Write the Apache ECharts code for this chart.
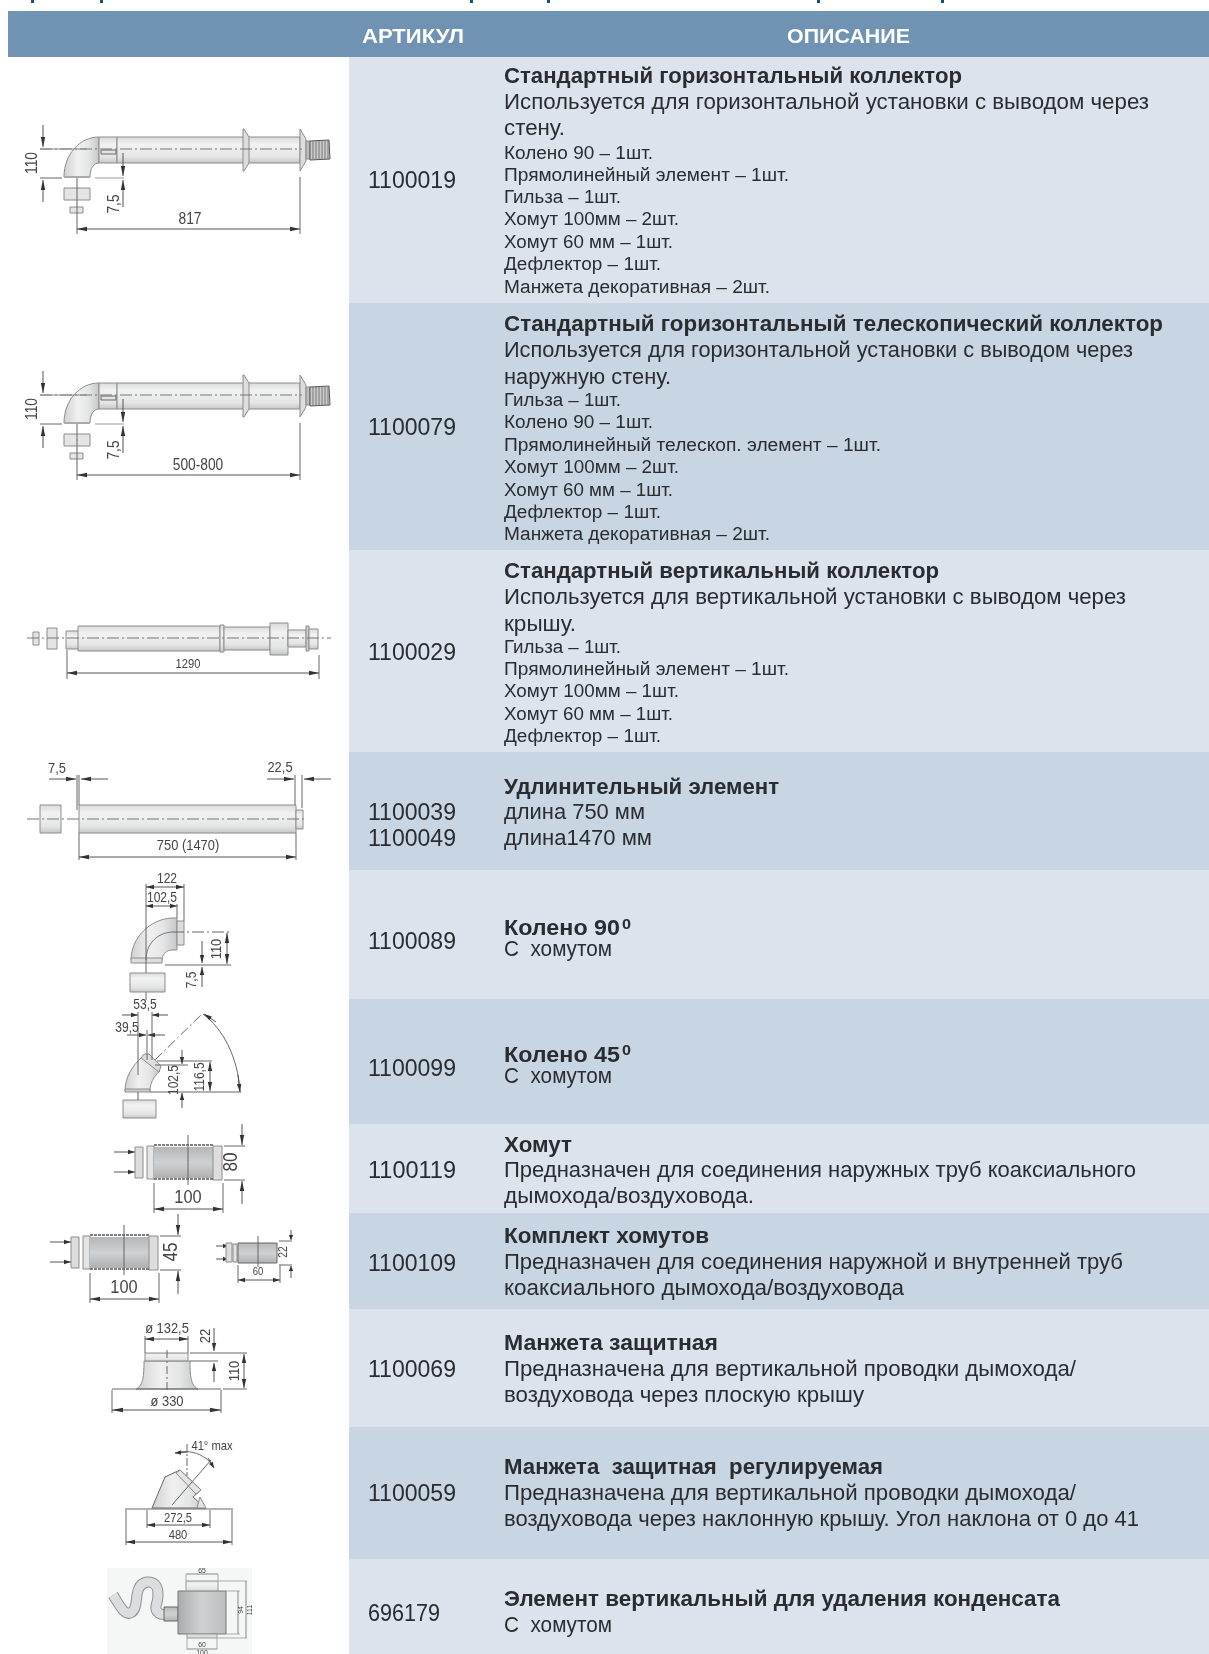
<!DOCTYPE html>
<html lang="ru">
<head>
<meta charset="utf-8">
<title>Коаксиальные элементы</title>
<script src="https://cdn.jsdelivr.net/npm/echarts@6/dist/echarts.min.js"></script>
<style>html,body{margin:0;padding:0;background:#fff}</style>
</head>
<body>
<div id="main" style="width:1209px;height:1654px"></div>
<script>
// table content
var headers = ['АРТИКУЛ', 'ОПИСАНИЕ'];
var articles = [['1100019'], ['1100079'], ['1100029'], ['1100039', '1100049'], ['1100089'], ['1100099'],
    ['1100119'], ['1100109'], ['1100069'], ['1100059'], ['696179']];
var titles = [
    'Стандартный горизонтальный коллектор',
    'Стандартный горизонтальный телескопический коллектор',
    'Стандартный вертикальный коллектор',
    'Удлинительный элемент',
    'Колено 90',
    'Колено 45',
    'Хомут',
    'Комплект хомутов',
    'Манжета защитная',
    'Манжета  защитная  регулируемая',
    'Элемент вертикальный для удаления конденсата'
];
var descriptions = [
    ['Используется для горизонтальной установки с выводом через', 'стену.'],
    ['Используется для горизонтальной установки с выводом через', 'наружную стену.'],
    ['Используется для вертикальной установки с выводом через', 'крышу.'],
    ['длина 750 мм', 'длина1470 мм'],
    ['С  хомутом'],
    ['С  хомутом'],
    ['Предназначен для соединения наружных труб коаксиального', 'дымохода/воздуховода.'],
    ['Предназначен для соединения наружной и внутренней труб', 'коаксиального дымохода/воздуховода'],
    ['Предназначена для вертикальной проводки дымохода/', 'воздуховода через плоскую крышу'],
    ['Предназначена для вертикальной проводки дымохода/', 'воздуховода через наклонную крышу. Угол наклона от 0 до 41'],
    ['С  хомутом']
];
var parts = [
    ['Колено 90 – 1шт.', 'Прямолинейный элемент – 1шт.', 'Гильза – 1шт.', 'Хомут 100мм – 2шт.', 'Хомут 60 мм – 1шт.', 'Дефлектор – 1шт.', 'Манжета декоративная – 2шт.'],
    ['Гильза – 1шт.', 'Колено 90 – 1шт.', 'Прямолинейный телескоп. элемент – 1шт.', 'Хомут 100мм – 2шт.', 'Хомут 60 мм – 1шт.', 'Дефлектор – 1шт.', 'Манжета декоративная – 2шт.'],
    ['Гильза – 1шт.', 'Прямолинейный элемент – 1шт.', 'Хомут 100мм – 1шт.', 'Хомут 60 мм – 1шт.', 'Дефлектор – 1шт.'],
    [], [], [], [], [], [], [], []
];

// layout, px on the page
var rowEdges = [57, 303, 550, 752, 870, 999, 1124, 1213, 1309, 1427, 1559, 1654];
var titleY = [77, 325, 572, 788, 929, 1056, 1146, 1237, 1344, 1468, 1600];
var descY = [[103, 129], [351, 378], [598, 625], [813, 839], [950], [1077], [1171, 1197], [1263, 1289], [1370, 1396], [1494, 1520], [1626]];
var partsY = [[154, 176, 198, 220, 243, 265, 288], [401, 423, 446, 468, 491, 513, 535], [648, 670, 692, 715, 737], [], [], [], [], [], [], [], []];
var articleY = [[182], [429], [654], [814, 840], [943], [1070], [1172], [1265], [1371], [1495], [1615]];
// right end of each line, so the tight setting of the print is kept
var articleEnd = [456, 456, 456, 456, 456, 456, 456, 456, 456, 456, 440];
var titleEnd = [962, 1163, 939, 779, 620, 620, 572, 709, 718, 883, 1060];
var descEnd = [[1149, 565], [1133, 671], [1126, 576], [645, 652], [612], [612], [1136, 754], [1123, 904], [1076, 864], [1076, 1139], [612]];
var partsEnd = [[653, 789, 621, 679, 673, 661, 770], [621, 653, 881, 679, 673, 661, 770], [621, 789, 679, 673, 661], [], [], [], [], [], [], [], []];

var TEXT = '#2a2c30', LINE = '#666', EDGE = '#8c8c8c', FONT = '"Liberation Sans", Arial, sans-serif';
var els = [], ox = 0, oy = 0, shapeCount = 0;
var measure = document.createElement('canvas').getContext('2d');

function line(x1, y1, x2, y2, w, c, dash) {
    els.push({type: 'line', x: ox, y: oy, silent: true,
        shape: {x1: x1, y1: y1, x2: x2, y2: y2},
        style: {stroke: c || LINE, lineWidth: w || 1, lineDash: dash || null}});
}
function center(x1, y1, x2, y2) {
    line(x1, y1, x2, y2, 1, '#777', [12, 3, 2, 3]);
}
function rect(x, y, w, h, fill, stroke, lw) {
    els.push({type: 'rect', x: ox, y: oy, silent: true,
        shape: {x: x, y: y, width: w, height: h},
        style: {fill: fill, stroke: stroke === undefined ? EDGE : stroke, lineWidth: lw || 1}});
}
// the graphic component has no plain svg path type, so each outline gets a registered shape
function path(d, fill, stroke, lw) {
    var name = 'outline' + (shapeCount++);
    echarts.graphic.registerShape(name, echarts.graphic.extendPath(d, {}));
    els.push({type: name, x: ox, y: oy, silent: true,
        style: {fill: fill || 'none', stroke: stroke === undefined ? EDGE : stroke, lineWidth: lw || 1}});
}
// dimension text, narrowed like the condensed face of the drawings
function label(x, y, s, size, rot, color) {
    els.push({type: 'text', x: x + ox, y: y + oy, rotation: rot ? Math.PI / 2 : 0, scaleX: 0.86, silent: true,
        style: {text: s, font: (size || 14) + 'px ' + FONT, fill: color || '#444',
            align: 'center', verticalAlign: 'middle'}});
}
function arrow(x1, y1, x2, y2, s) {
    s = s || 10;
    line(x1, y1, x2, y2, 1, '#555');
    var a = Math.atan2(y2 - y1, x2 - x1), c = Math.cos(a), n = Math.sin(a), h = 2.2;
    var bx = x2 - c * s, by = y2 - n * s;
    els.push({type: 'polygon', x: ox, y: oy, silent: true,
        shape: {points: [[x2, y2], [bx - n * h, by + c * h], [bx + n * h, by - c * h]]},
        style: {fill: '#333'}});
}
function dimH(x1, x2, y, s) {
    arrow((x1 + x2) / 2, y, x1, y, s);
    arrow((x1 + x2) / 2, y, x2, y, s);
}
function dimV(x, y1, y2, s) {
    arrow(x, (y1 + y2) / 2, x, y1, s);
    arrow(x, (y1 + y2) / 2, x, y2, s);
}
function fitted(x, right, y, s, size, bold, color) {
    var font = (bold ? 'bold ' : '') + size + 'px ' + FONT;
    measure.font = font;
    els.push({type: 'text', x: x, y: y, scaleX: (right - x) / measure.measureText(s).width, silent: true,
        style: {text: s, font: font, fill: color || TEXT, align: 'left', verticalAlign: 'middle'}});
}

var tube = {type: 'linear', x: 0, y: 0, x2: 0, y2: 1, colorStops: [
    {offset: 0, color: '#d8d9da'}, {offset: 0.3, color: '#f2f2f2'}, {offset: 0.75, color: '#e4e5e5'}, {offset: 1, color: '#c4c5c7'}]};
var tubeX = {type: 'linear', x: 0, y: 0, x2: 1, y2: 0, colorStops: [
    {offset: 0, color: '#cfd0d1'}, {offset: 0.4, color: '#f0f0f0'}, {offset: 0.7, color: '#e4e5e5'}, {offset: 1, color: '#c4c5c7'}]};
var band = {type: 'linear', x: 0, y: 0, x2: 0, y2: 1, colorStops: [
    {offset: 0, color: '#b4b6b8'}, {offset: 0.5, color: '#d0d1d2'}, {offset: 1, color: '#aeb0b2'}]};

function table() {
    rect(8, 11, 1201, 46, '#7093b3', null);
    fitted(362, 464, 37, headers[0], 21, true, '#fff');
    fitted(787, 910, 37, headers[1], 21, true, '#fff');
    for (var i = 0; i < articles.length; i++) {
        rect(349, rowEdges[i], 860, rowEdges[i + 1] - rowEdges[i], i % 2 ? '#c8d5e3' : '#dce3ed', null);
        articles[i].forEach(function (a, j) {
            fitted(368, articleEnd[i], articleY[i][j], a, 23, false);
        });
        fitted(504, titleEnd[i], titleY[i], titles[i], 22, true);
        descriptions[i].forEach(function (d, j) {
            fitted(504, descEnd[i][j], descY[i][j], d, 22.5, false);
        });
        parts[i].forEach(function (p, j) {
            fitted(504, partsEnd[i][j], partsY[i][j], p, 18, false);
        });
    }
    fitted(622, 631, 925, '0', 15, true);
    fitted(622, 631, 1051, '0', 15, true);
    // feet of the cut off heading line above the table
    [31, 100, 470, 547, 817, 941].forEach(function (x) {
        rect(x, 0, 3, 3, '#1b4c86', null);
    });
}

// rows 1 and 2 share one drawing
function horizontal(dy, size, sizeX) {
    ox = 0; oy = dy;
    path('M64 177C64 154 80 137 99 137L99 163C94 163 90 168 90 177Z', tubeX);
    rect(64, 176, 26, 2, '#aaa', null);
    rect(99, 137, 18, 26, tube);
    rect(117, 137, 183, 26, tube);
    rect(101, 150, 15, 4, '#e4e4e4', '#666');
    path('M244 129L249 137L249 163L244 171L243 171L243 129Z', '#ddd');
    path('M300 129L306 139L306 161L300 171Z', '#ddd');
    rect(306, 141, 4, 18, '#bbb');
    path('M310 141L329 140L330 159L310 160Z', '#ccc', '#555');
    for (var i = 0; i < 6; i++) line(313 + i * 3, 141, 313 + i * 3, 159, 1, '#777');
    center(40, 149, 302, 149);
    line(40, 149, 87, 149, 1, '#888');
    line(40, 178, 62, 178, 1, LINE);
    arrow(43, 125, 43, 147);
    arrow(43, 202, 43, 180);
    label(33, 163, '110', 16, true);
    line(95, 178, 124, 178, 1, '#999');
    arrow(123, 153, 123, 176);
    arrow(123, 207, 123, 180);
    label(115, 204, '7,5', 16, true);
    rect(64, 188, 26, 12, '#e4e4e4');
    rect(70, 207, 13, 6, '#e4e4e4');
    line(77, 178, 77, 234);
    line(300, 177, 300, 234);
    dimH(77, 300, 229);
    label(sizeX, 220, size, 16);
}

function drawings() {
    horizontal(0, '817', 190);
    horizontal(246, '500-800', 198);
    ox = 0; oy = 0;

    // row 3
    rect(33, 632, 6, 13, '#e4e4e4');
    rect(47, 628, 10, 21, '#e4e4e4');
    rect(66, 631, 14, 18, tube);
    rect(78, 626, 142, 25, tube);
    rect(220, 625, 4, 27, tube);
    rect(224, 627, 46, 23, tube);
    rect(270, 623, 18, 32, tube);
    rect(288, 630, 18, 17, tube);
    rect(306, 626, 3, 25, '#ccc');
    rect(309, 629, 9, 20, tube);
    center(27, 638, 331, 638);
    line(67, 650, 67, 679);
    line(319, 655, 319, 679);
    dimH(67, 319, 673);
    label(188, 664, '1290', 13);

    // row 4
    rect(40, 805, 21, 28, tube);
    rect(79, 805, 217, 28, tube);
    rect(296, 810, 7, 19, tube);
    center(27, 819, 306, 819);
    line(77, 775, 77, 810);
    line(79, 775, 79, 805);
    arrow(49, 779, 76, 779);
    arrow(108, 779, 81, 779);
    label(57, 769, '7,5', 15);
    line(295, 775, 295, 805);
    line(302, 775, 302, 808);
    arrow(267, 779, 294, 779);
    arrow(331, 779, 304, 779);
    label(280, 768, '22,5', 15);
    line(79, 833, 79, 860);
    line(296, 833, 296, 860);
    dimH(79, 296, 857);
    label(188, 846, '750 (1470)', 15);

    // row 5, elbow 90
    path('M131 960C131 938 150 919 172 918L177 918L177 950L172 950C166 950 162 955 162 960Z', tubeX);
    rect(131, 958, 31, 5, '#ddd');
    rect(177, 921, 7, 24, '#ddd');
    path('M146 960C146 945 156 933 172 932', null, '#777');
    line(172, 932, 230, 932, 1, LINE, [12, 3, 2, 3]);
    line(146, 884, 146, 1000);
    line(184, 884, 184, 921);
    line(177, 904, 177, 918);
    dimH(146, 184, 887, 8);
    dimH(146, 177, 906, 7);
    label(167, 879, '122', 14);
    label(162, 898, '102,5', 14);
    line(165, 965, 231, 965);
    dimV(227, 933, 964, 10);
    label(217, 949, '110', 15, true);
    arrow(202, 941, 202, 963, 8);
    arrow(202, 987, 202, 967, 8);
    label(192, 980, '7,5', 14, true);
    rect(130, 973, 35, 19, tube);

    // row 6, elbow 45
    path('M125 1091C125 1078 132 1066 142 1057L160 1071C153 1077 150 1084 150 1091Z', tubeX);
    path('M144 1054L149 1054L161 1066L159 1072L141 1058Z', '#ddd');
    rect(125, 1089, 25, 3, '#ccc');
    line(155, 1060, 203, 1013, 1, LINE, [10, 3, 2, 3]);
    path('M203 1014C222 1028 238 1056 240 1092', null, LINE);
    arrow(238, 1075, 240, 1092, 8);
    arrow(216, 1022, 204, 1014, 8);
    line(138, 1012, 138, 1075);
    line(152, 1012, 152, 1060);
    line(147, 1030, 147, 1060);
    arrow(122, 1015, 138, 1015, 7);
    arrow(168, 1015, 152, 1015, 7);
    arrow(127, 1035, 146, 1035, 7);
    arrow(165, 1035, 148, 1035, 7);
    label(145, 1005, '53,5', 14);
    label(127, 1028, '39,5', 14);
    line(157, 1061, 212, 1061);
    line(150, 1092, 241, 1092);
    line(155, 1065, 188, 1065);
    dimV(210, 1062, 1091, 9);
    label(200, 1077, '116,5', 14, true);
    arrow(182, 1050, 182, 1064, 7);
    arrow(182, 1108, 182, 1093, 7);
    label(174, 1080, '102,5', 14, true);
    rect(123, 1100, 33, 18, tube);
    line(138, 1092, 138, 1100);

    // rows 7 and 8, clamps
    clamp(0, 0, '80', 231);
    clamp(-64, 90, '45', 235);
    ox = 0; oy = 0;
    arrow(216, 1246, 228, 1246, 5);
    arrow(216, 1259, 228, 1259, 5);
    rect(226, 1243, 6, 19, '#ddd');
    rect(233, 1244, 4, 18, '#e4e4e4');
    rect(238, 1243, 39, 20, band, LINE);
    line(258, 1236, 258, 1267);
    line(238, 1265, 238, 1283);
    line(280, 1265, 280, 1283);
    dimH(238, 280, 1280, 7);
    label(258, 1272, '60', 11);
    line(279, 1241, 292, 1241);
    line(279, 1265, 292, 1265);
    arrow(291, 1230, 291, 1240, 5);
    arrow(291, 1278, 291, 1266, 5);
    label(284, 1252, '22', 12, true);

    // row 9, flat roof flashing
    path('M144 1361L190 1361C190 1380 192 1386 198 1389L136 1389C142 1386 144 1380 144 1361Z', tubeX);
    rect(145, 1353, 43, 8, tube);
    line(112, 1389, 221, 1389, 1.2, LINE);
    line(167, 1350, 167, 1390, 1, LINE, [8, 3, 2, 3]);
    line(145, 1336, 145, 1353);
    line(188, 1336, 188, 1353);
    dimH(145, 188, 1339, 9);
    label(167, 1329, 'ø 132,5', 15);
    line(190, 1353, 247, 1353);
    line(190, 1361, 218, 1361);
    line(223, 1389, 247, 1389);
    arrow(214, 1328, 214, 1351, 8);
    arrow(214, 1382, 214, 1363, 8);
    label(206, 1336, '22', 15, true);
    dimV(244, 1354, 1388, 9);
    label(235, 1371, '110', 15, true);
    line(112, 1390, 112, 1413);
    line(221, 1390, 221, 1413);
    dimH(112, 221, 1410, 11);
    label(167, 1402, 'ø 330', 15);

    // row 10, adjustable flashing
    path('M152 1508L165 1477L180 1470L201 1490L193 1497L205 1508Z', tubeX, LINE);
    path('M180 1470L201 1490L196 1494L176 1473Z', '#e4e4e4');
    path('M200 1497L206 1508L197 1508Z', '#e4e4e4');
    line(125, 1509, 233, 1509, 1.2, LINE);
    line(187, 1444, 187, 1476, 1, LINE, [8, 2, 2, 2]);
    line(172, 1505, 211, 1460, 1, LINE);
    path('M175 1453C190 1449 205 1454 213 1466', null, LINE);
    arrow(188, 1452, 175, 1453, 6);
    arrow(208, 1458, 214, 1468, 6);
    label(212, 1446, '41° max', 13);
    line(147, 1510, 147, 1528);
    line(210, 1510, 210, 1528);
    dimH(147, 210, 1525, 8);
    label(178, 1518, '272,5', 13);
    line(126, 1510, 126, 1545);
    line(232, 1510, 232, 1545);
    dimH(126, 232, 1542, 9);
    label(178, 1535, '480', 13);

    // row 11, condensate trap
    rect(107, 1568, 145, 86, '#f5f6f6', null);
    var s = 'M113 1595C120 1606 125 1617 132 1612C140 1606 132 1585 147 1582C162 1581 158 1600 156 1606C155 1612 160 1616 168 1614';
    path(s, null, '#8f9193', 11);
    path(s, null, '#dcddde', 9);
    rect(164, 1607, 14, 14, band, LINE);
    rect(178, 1591, 48, 43, {type: 'linear', x: 0, y: 0, x2: 1, y2: 0, colorStops: [
        {offset: 0, color: '#a9abad'}, {offset: 0.5, color: '#d0d1d2'}, {offset: 1, color: '#bcbdbf'}]}, '#777');
    rect(186, 1581, 32, 10, tube, '#999');
    rect(187, 1634, 30, 4, '#ddd', '#999');
    line(186, 1574, 186, 1581, 1, '#aaa');
    line(218, 1574, 218, 1581, 1, '#aaa');
    line(186, 1574, 218, 1574, 1, '#888');
    label(202, 1571, '65', 8);
    line(218, 1581, 247, 1581, 1, '#aaa');
    line(217, 1638, 247, 1638, 1, '#aaa');
    line(246, 1581, 246, 1638, 1, '#888');
    line(226, 1591, 240, 1591, 1, '#aaa');
    line(226, 1634, 240, 1634, 1, '#aaa');
    line(238, 1591, 238, 1634, 1, '#888');
    label(241, 1610, '94', 8, true);
    label(250, 1610, '111', 8, true);
    line(187, 1638, 187, 1649, 1, '#aaa');
    line(217, 1638, 217, 1649, 1, '#aaa');
    line(187, 1649, 217, 1649, 1, '#888');
    label(202, 1645, '60', 8);
    label(202, 1653, '100', 8);
}

function clamp(dx, dy, h, hx) {
    ox = dx; oy = dy;
    arrow(114, 1152, 135, 1152, 7);
    arrow(114, 1172, 135, 1172, 7);
    rect(135, 1147, 8, 31, '#ddd');
    rect(147, 1146, 7, 33, '#e4e4e4');
    rect(154, 1147, 59, 31, band, null);
    rect(213, 1146, 9, 34, '#ddd');
    line(154, 1145, 213, 1145, 1.5, '#555', [3, 1]);
    line(154, 1179, 213, 1179, 1.5, '#555', [3, 1]);
    line(188, 1135, 188, 1185);
    line(224, 1146, 245, 1146);
    line(224, 1180, 245, 1180);
    arrow(242, 1124, 242, 1145);
    arrow(242, 1204, 242, 1181);
    label(hx, 1162, h, 20, true);
    line(154, 1183, 154, 1213);
    line(223, 1183, 223, 1213);
    dimH(154, 223, 1209);
    label(188, 1198, '100', 19);
}

table();
drawings();

var myChart = echarts.init(document.getElementById('main'), null, {renderer: 'canvas'});
myChart.setOption({animation: false, graphic: {elements: els}});
</script>
</body>
</html>
